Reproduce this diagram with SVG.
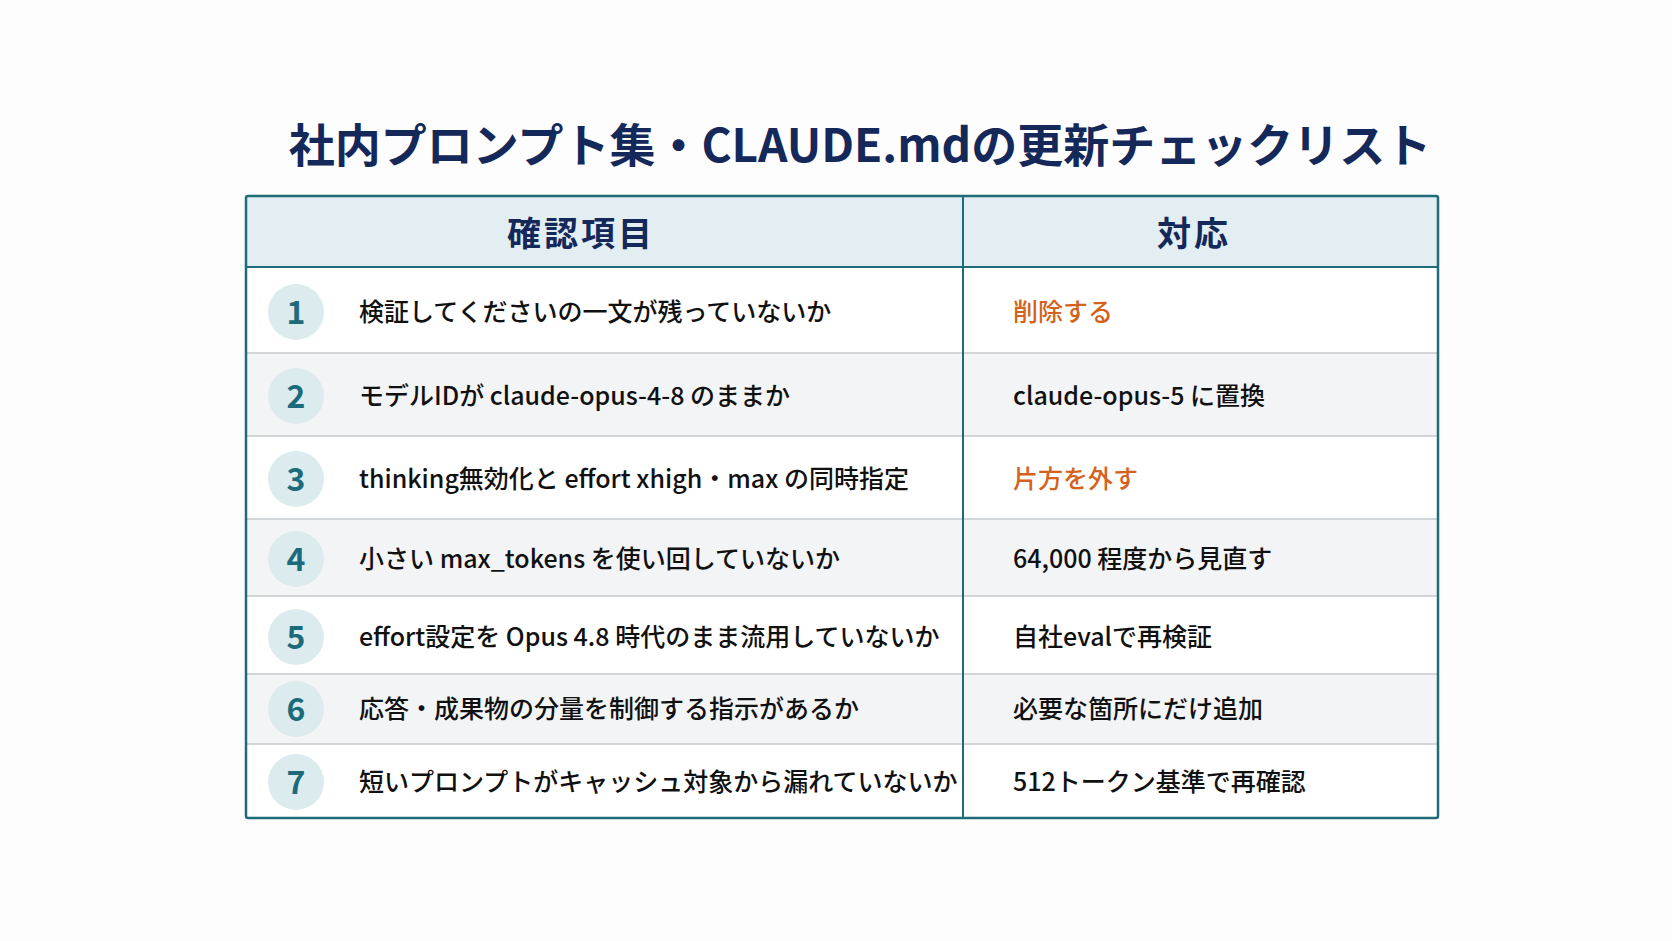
<svg xmlns="http://www.w3.org/2000/svg" width="1672" height="941" viewBox="0 0 1672 941">
<style>
text{font-family:"Noto Sans CJK JP","Noto Sans",sans-serif}
.t{font-size:46px;font-weight:700;fill:#15285a}
.h{font-size:34px;font-weight:700;fill:#15285a;letter-spacing:3px}
.n{font-size:32px;font-weight:700;fill:#1d6b7a}
.c{fill:#dcebee}
.i{font-size:25px;font-weight:500;fill:#111}
.o{fill:#d4621c}
.sep{stroke:#d2d6d9;stroke-width:2}
</style>
<rect width="1672" height="941" fill="#fdfdfd"/>
<text class="t" x="860" y="162" text-anchor="middle">社内プロンプト集・CLAUDE.mdの更新チェックリスト</text>
<g id="table">
<rect x="246" y="196" width="1192" height="622" fill="#fff"/>
<rect x="246" y="196" width="1192" height="71" fill="#e3eef2"/>
<rect x="246" y="353" width="1192" height="83" fill="#f3f4f6"/>
<rect x="246" y="519" width="1192" height="77" fill="#f3f4f6"/>
<rect x="246" y="674" width="1192" height="70" fill="#f3f4f6"/>
<g class="sep"><line x1="246" y1="353" x2="1438" y2="353"/><line x1="246" y1="436" x2="1438" y2="436"/><line x1="246" y1="519" x2="1438" y2="519"/><line x1="246" y1="596" x2="1438" y2="596"/><line x1="246" y1="674" x2="1438" y2="674"/><line x1="246" y1="744" x2="1438" y2="744"/></g>
<line x1="246" y1="267" x2="1438" y2="267" stroke="#1f6b78" stroke-width="2"/>
<line x1="963" y1="196" x2="963" y2="818" stroke="#1f6b78" stroke-width="2"/>
<rect x="246" y="196" width="1192" height="622" fill="none" stroke="#1f6b78" stroke-width="2.5" rx="2"/>
<text class="h" x="581" y="246" text-anchor="middle">確認項目</text>
<text class="h" x="1194" y="246" text-anchor="middle">対応</text>
</g>
<g id="row1"><circle class="c" cx="296" cy="312" r="28"/><text class="n" x="296" y="324" text-anchor="middle">1</text><text class="i" x="359" y="321">検証してくださいの一文が残っていないか</text><text class="i o" x="1013" y="321">削除する</text></g>
<g id="row2"><circle class="c" cx="296" cy="396" r="28"/><text class="n" x="296" y="408" text-anchor="middle">2</text><text class="i" x="359" y="405">モデルIDが claude-opus-4-8 のままか</text><text class="i" x="1013" y="405">claude-opus-5 に置換</text></g>
<g id="row3"><circle class="c" cx="296" cy="479" r="28"/><text class="n" x="296" y="491" text-anchor="middle">3</text><text class="i" x="359" y="488">thinking無効化と effort xhigh・max の同時指定</text><text class="i o" x="1013" y="488">片方を外す</text></g>
<g id="row4"><circle class="c" cx="296" cy="559" r="28"/><text class="n" x="296" y="571" text-anchor="middle">4</text><text class="i" x="359" y="568">小さい max_tokens を使い回していないか</text><text class="i" x="1013" y="568">64,000 程度から見直す</text></g>
<g id="row5"><circle class="c" cx="296" cy="637" r="28"/><text class="n" x="296" y="649" text-anchor="middle">5</text><text class="i" x="359" y="646">effort設定を Opus 4.8 時代のまま流用していないか</text><text class="i" x="1013" y="646">自社evalで再検証</text></g>
<g id="row6"><circle class="c" cx="296" cy="709" r="28"/><text class="n" x="296" y="721" text-anchor="middle">6</text><text class="i" x="359" y="718">応答・成果物の分量を制御する指示があるか</text><text class="i" x="1013" y="718">必要な箇所にだけ追加</text></g>
<g id="row7"><circle class="c" cx="296" cy="782" r="28"/><text class="n" x="296" y="794" text-anchor="middle">7</text><text class="i" x="359" y="791">短いプロンプトがキャッシュ対象から漏れていないか</text><text class="i" x="1013" y="791">512トークン基準で再確認</text></g>
</svg>
